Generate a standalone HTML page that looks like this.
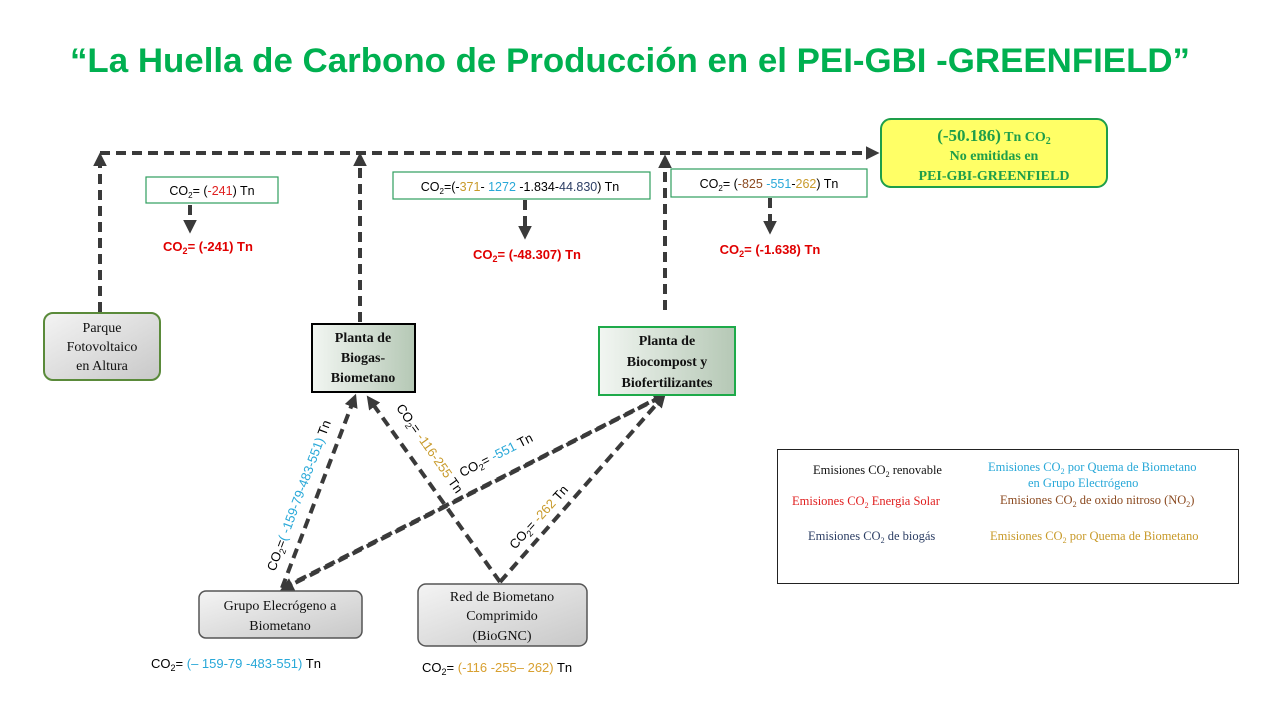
<!DOCTYPE html>
<html><head><meta charset="utf-8"><style>
html,body{margin:0;padding:0;background:#fff;}
svg{display:block;}
.c{font-family:"Liberation Sans",sans-serif;}
.s{font-family:"Liberation Serif",serif;}
</style></head><body>
<svg width="1280" height="720" viewBox="0 0 1280 720" xmlns="http://www.w3.org/2000/svg">
<defs>
<marker id="ah" markerWidth="3.4" markerHeight="3.4" refX="2" refY="1.7" orient="auto" markerUnits="strokeWidth">
<path d="M0,0 L3.4,1.7 L0,3.4 Z" fill="#3a3a3a"/></marker>
<linearGradient id="gg" x1="0" y1="0" x2="1" y2="1"><stop offset="0" stop-color="#f4f4f4"/><stop offset="1" stop-color="#c8c8c8"/></linearGradient>
<linearGradient id="gr" x1="0" y1="0" x2="1" y2="0"><stop offset="0" stop-color="#f2f6f2"/><stop offset="1" stop-color="#b5c8b5"/></linearGradient>
</defs>
<text x="630" y="72" text-anchor="middle" class="c" font-size="34" font-weight="bold" fill="#00b050" textLength="1120" lengthAdjust="spacingAndGlyphs">“La Huella de Carbono de Producción en el  PEI-GBI -GREENFIELD”</text>

<g stroke="#3a3a3a" stroke-width="4" stroke-dasharray="10,6" fill="none">
<line x1="100" y1="153" x2="874" y2="153" marker-end="url(#ah)"/>
<line x1="100" y1="312" x2="100" y2="158" marker-end="url(#ah)"/>
<line x1="360" y1="322" x2="360" y2="158" marker-end="url(#ah)"/>
<line x1="665" y1="310" x2="665" y2="160" marker-end="url(#ah)"/>
<line x1="190" y1="205" x2="190" y2="228" marker-end="url(#ah)"/>
<line x1="525" y1="200" x2="525" y2="234" marker-end="url(#ah)"/>
<line x1="770" y1="198" x2="770" y2="229" marker-end="url(#ah)"/>
<line x1="282" y1="588" x2="354" y2="399" marker-end="url(#ah)"/>
<line x1="500" y1="582" x2="370" y2="400" marker-end="url(#ah)"/>
<line x1="500" y1="582" x2="662" y2="398" marker-end="url(#ah)"/>
<line x1="283" y1="588" x2="662" y2="396" marker-end="url(#ah)"/>
<line x1="661" y1="397" x2="285" y2="588" marker-end="url(#ah)"/>
</g>

<rect x="146" y="177" width="132" height="26" fill="#fff" stroke="#2e9e5e" stroke-width="1.2"/>
<text x="212" y="195" text-anchor="middle" class="c" font-size="12.5">CO<tspan font-size="8" dy="3">2</tspan><tspan dy="-3">= (</tspan><tspan fill="#e02020">-241</tspan>) Tn</text>
<text x="208" y="251" text-anchor="middle" class="c" font-size="13" font-weight="bold" fill="#e00000">CO<tspan font-size="9" dy="3">2</tspan><tspan dy="-3">= (-241) Tn</tspan></text>

<rect x="393" y="172" width="257" height="27" fill="#fff" stroke="#2e9e5e" stroke-width="1.2"/>
<text x="520" y="191" text-anchor="middle" class="c" font-size="12.5">CO<tspan font-size="8" dy="3">2</tspan><tspan dy="-3">=(-</tspan><tspan fill="#c89a2a">371</tspan>- <tspan fill="#28a8d8">1272</tspan> -1.834-<tspan fill="#2c3e64">44.830</tspan>) Tn</text>
<text x="527" y="259" text-anchor="middle" class="c" font-size="13" font-weight="bold" fill="#e00000">CO<tspan font-size="9" dy="3">2</tspan><tspan dy="-3">= (-48.307) Tn</tspan></text>

<rect x="671" y="169" width="196" height="28" fill="#fff" stroke="#2e9e5e" stroke-width="1.2"/>
<text x="769" y="188" text-anchor="middle" class="c" font-size="12.5">CO<tspan font-size="8" dy="3">2</tspan><tspan dy="-3">= (</tspan><tspan fill="#8b4a20">-825</tspan> <tspan fill="#28a8d8">-551</tspan>-<tspan fill="#c89a2a">262</tspan>) Tn</text>
<text x="770" y="254" text-anchor="middle" class="c" font-size="13" font-weight="bold" fill="#e00000">CO<tspan font-size="9" dy="3">2</tspan><tspan dy="-3">= (-1.638) Tn</tspan></text>

<rect x="881" y="119" width="226" height="68" rx="10" fill="#ffff66" stroke="#1e9e4a" stroke-width="2"/>
<text x="994" y="141" text-anchor="middle" class="s" font-weight="bold" fill="#1e9e4a"><tspan font-size="17">(-50.186)</tspan><tspan font-size="14"> Tn CO</tspan><tspan font-size="10" dy="3">2</tspan></text>
<text x="994" y="160" text-anchor="middle" class="s" font-size="14" font-weight="bold" fill="#1e9e4a">No emitidas en</text>
<text x="994" y="180" text-anchor="middle" class="s" font-size="14" font-weight="bold" fill="#1e9e4a">PEI-GBI-GREENFIELD</text>

<rect x="44" y="313" width="116" height="67" rx="9" fill="url(#gg)" stroke="#5a8a3a" stroke-width="2"/>
<text class="s" font-size="14" text-anchor="middle" fill="#111"><tspan x="102" y="332">Parque</tspan><tspan x="102" y="351">Fotovoltaico</tspan><tspan x="102" y="370">en Altura</tspan></text>

<rect x="312" y="324" width="103" height="68" fill="url(#gr)" stroke="#000" stroke-width="2"/>
<text class="s" font-size="14" font-weight="bold" text-anchor="middle" fill="#111"><tspan x="363" y="342">Planta de</tspan><tspan x="363" y="362">Biogas-</tspan><tspan x="363" y="382">Biometano</tspan></text>

<rect x="599" y="327" width="136" height="68" fill="url(#gr)" stroke="#1eaa4a" stroke-width="2"/>
<text class="s" font-size="14" font-weight="bold" text-anchor="middle" fill="#111"><tspan x="667" y="345">Planta de</tspan><tspan x="667" y="366">Biocompost y</tspan><tspan x="667" y="387">Biofertilizantes</tspan></text>

<rect x="199" y="591" width="163" height="47" rx="7" fill="url(#gg)" stroke="#555" stroke-width="1.5"/>
<text class="s" font-size="14" text-anchor="middle" fill="#111"><tspan x="280" y="610">Grupo Elecrógeno a</tspan><tspan x="280" y="630">Biometano</tspan></text>

<rect x="418" y="584" width="169" height="62" rx="8" fill="url(#gg)" stroke="#555" stroke-width="1.5"/>
<text class="s" font-size="14" text-anchor="middle" fill="#111"><tspan x="502" y="601">Red de Biometano</tspan><tspan x="502" y="620">Comprimido</tspan><tspan x="502" y="640">(BioGNC)</tspan></text>

<text x="151" y="668" class="c" font-size="13">CO<tspan font-size="9" dy="3">2</tspan><tspan dy="-3">= </tspan><tspan fill="#28a8d8">(– 159-79 -483-551)</tspan> Tn</text>
<text x="422" y="672" class="c" font-size="13">CO<tspan font-size="9" dy="3">2</tspan><tspan dy="-3">= </tspan><tspan fill="#d8a030">(-116 -255– 262)</tspan> Tn</text>

<text transform="translate(303,497) rotate(-69.5)" text-anchor="middle" class="c" font-size="13">CO<tspan font-size="9" dy="3">2</tspan><tspan dy="-3">=</tspan><tspan fill="#28a8d8">( -159-79-483-551)</tspan> Tn</text>
<text transform="translate(426,451) rotate(55)" text-anchor="middle" class="c" font-size="13">CO<tspan font-size="9" dy="3">2</tspan><tspan dy="-3">= </tspan><tspan fill="#c89a2a">-116-255</tspan> Tn</text>
<text transform="translate(498,459) rotate(-27)" text-anchor="middle" class="c" font-size="13">CO<tspan font-size="9" dy="3">2</tspan><tspan dy="-3">= </tspan><tspan fill="#28a8d8">-551</tspan> Tn</text>
<text transform="translate(542,520) rotate(-48)" text-anchor="middle" class="c" font-size="13">CO<tspan font-size="9" dy="3">2</tspan><tspan dy="-3">= </tspan><tspan fill="#c89a2a">-262</tspan> Tn</text>

<rect x="777.5" y="449.5" width="461" height="134" fill="#fff" stroke="#222" stroke-width="1"/>
<g class="s" font-size="12.5">
<text x="813" y="474" fill="#111">Emisiones   CO<tspan font-size="8" dy="3">2</tspan><tspan dy="-3"> renovable</tspan></text>
<text x="792" y="505" fill="#e02020">Emisiones   CO<tspan font-size="8" dy="3">2</tspan><tspan dy="-3"> Energia Solar</tspan></text>
<text x="808" y="540" fill="#2c3e64">Emisiones   CO<tspan font-size="8" dy="3">2</tspan><tspan dy="-3"> de biogás</tspan></text>
<text x="988" y="471" fill="#28a8d8">Emisiones   CO<tspan font-size="8" dy="3">2</tspan><tspan dy="-3"> por Quema de Biometano</tspan></text>
<text x="1028" y="487" fill="#28a8d8">en Grupo Electrógeno</text>
<text x="1000" y="504" fill="#8b4a20">Emisiones   CO<tspan font-size="8" dy="3">2</tspan><tspan dy="-3"> de oxido nitroso (NO</tspan><tspan font-size="8" dy="3">2</tspan><tspan dy="-3">)</tspan></text>
<text x="990" y="540" fill="#c89a2a">Emisiones   CO<tspan font-size="8" dy="3">2</tspan><tspan dy="-3"> por Quema de Biometano</tspan></text>
</g>
</svg>
</body></html>
